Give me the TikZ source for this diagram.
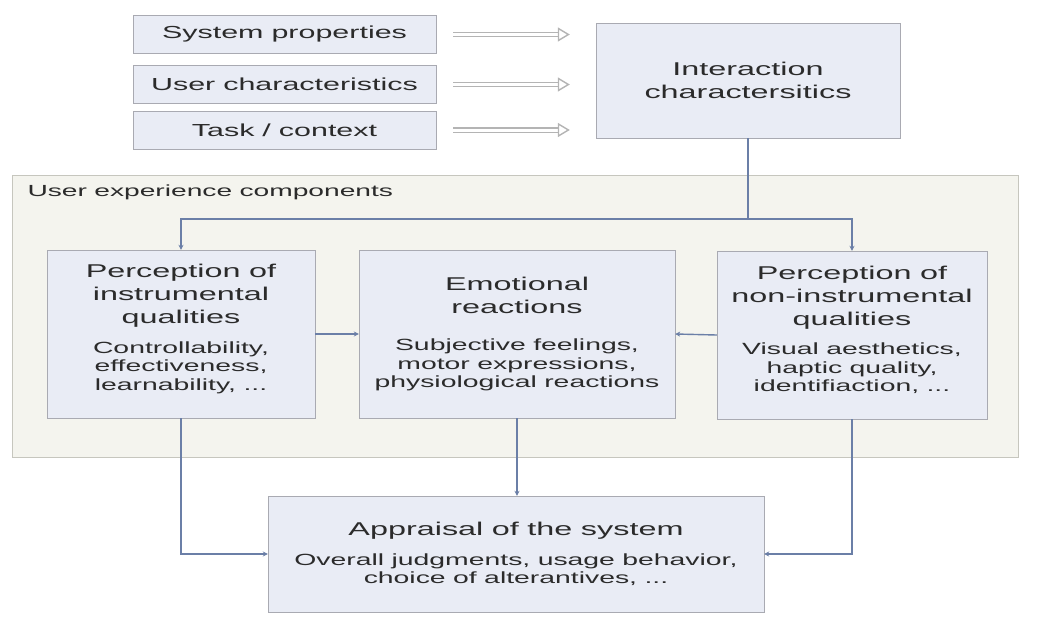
\documentclass[tikz,border=0pt]{standalone}
\usepackage{fontspec}
\setmainfont{Liberation Sans}[FakeStretch=1.75]
\usetikzlibrary{arrows.meta}

\definecolor{boxfill}{HTML}{E9ECF5}
\definecolor{boxline}{HTML}{A9AAB2}
\definecolor{uxfill}{HTML}{F4F4EE}
\definecolor{uxline}{HTML}{C6C6BE}
\definecolor{flow}{HTML}{6B7FA7}
\definecolor{ingrey}{HTML}{B4B4B4}
\definecolor{textcol}{HTML}{2B2B2B}

\newcommand{\schrift}[2]{\fontsize{#1}{#2}\selectfont\spaceskip=0.46em\relax}
\newcommand{\titel}[1]{{\schrift{18.5}{23}#1\par}}
\newcommand{\beschr}[1]{{\schrift{16.2}{18.5}#1\par}}

\tikzset{
  factor/.style={draw=boxline, fill=boxfill, text=textcol, minimum width=303pt,
    minimum height=38pt, inner sep=0pt, font=\schrift{17.4}{20}},
  component/.style={draw=boxline, fill=boxfill, text=textcol, align=center, inner sep=0pt},
  flowarrow/.style={draw=flow, line width=1.4pt, -{Stealth[length=5pt,width=5pt]}},
  inarrow/.style={draw=ingrey, double=white, double distance=3pt, line width=1.4pt,
    -{Triangle[open,length=12pt,width=14pt]}}
}

\begin{document}
\begin{tikzpicture}[x=1pt, y=-1pt]
\useasboundingbox (0,0) rectangle (1043,616);

% Einflussfaktoren
\node[factor] (sys) at (284.5,34.5) {System properties};
\node[factor] (user) at (284.5,84.5) {User characteristics};
\node[factor] (task) at (284.5,130) {Task / context};

\node[component, minimum width=304pt, minimum height=115pt, text width=280pt] (inter) at (748,80.5)
  {\titel{Interaction\\charactersitics}};

\draw[inarrow, shorten <=17pt, shorten >=26pt] (sys.east) -- (sys.east -| inter.west);
\draw[inarrow, shorten <=17pt, shorten >=26pt] (user.east) -- (user.east -| inter.west);
\draw[inarrow, shorten <=17pt, shorten >=26pt] (task.east) -- (task.east -| inter.west);

% UX-Komponenten
\node[draw=uxline, fill=uxfill, minimum width=1006pt, minimum height=282pt, inner sep=0pt] (ux) at (515,316) {};
\node[anchor=west, text=textcol, font=\schrift{16.1}{19}] (uxlabel) at (24,192) {User experience components};

\node[component, minimum width=268pt, minimum height=168pt, text width=250pt] (instr) at (181,334)
  {\titel{Perception of\\instrumental\\qualities}\vspace{11pt}
   \beschr{Controllability,\\effectiveness,\\learnability, ...}\vspace{10pt}};
\node[component, minimum width=316pt, minimum height=168pt, text width=300pt] (emo) at (517,334)
  {\titel{Emotional\\reactions}\vspace{19pt}
   \beschr{Subjective feelings,\\motor expressions,\\physiological reactions}};
\node[component, minimum width=270pt, minimum height=168pt, text width=262pt] (noninstr) at (852,335)
  {\titel{Perception of\\non-instrumental\\qualities}\vspace{11pt}
   \beschr{Visual aesthetics,\\haptic quality,\\identifiaction, ...}\vspace{10pt}};

% Verteilung
\coordinate (split) at (748,219);
\draw[draw=flow, line width=1.4pt] (inter.south) -- (split);
\draw[flowarrow] (split) -| (instr.north);
\draw[flowarrow] (split) -| (noninstr.north);

\draw[flowarrow] (instr.east) -- (emo.west);
\draw[flowarrow] (noninstr.west) -- (emo.east);

% Bewertung
\node[component, minimum width=496pt, minimum height=116pt, text width=480pt] (appr) at (516,554)
  {\titel{Appraisal of the system}\vspace{11pt}
   \beschr{Overall judgments, usage behavior,\\choice of alterantives, ...}};

\draw[flowarrow] (emo.south) -- (emo.south |- appr.north);
\draw[flowarrow] (instr.south) |- (appr.west);
\draw[flowarrow] (noninstr.south) |- (appr.east);

\end{tikzpicture}
\end{document}
